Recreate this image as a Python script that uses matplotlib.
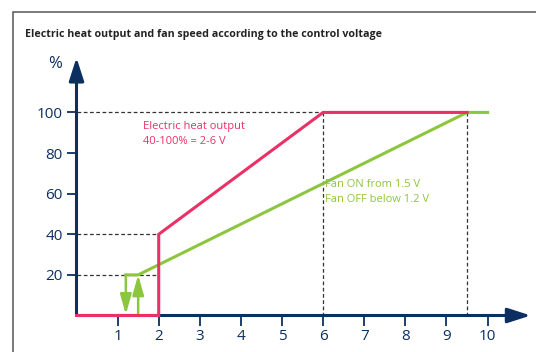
import matplotlib.pyplot as plt
from matplotlib.patches import Rectangle

# Valores de la gráfica
heat_v = [0, 2, 2, 6, 9.5]
heat_pct = [0, 0, 40, 100, 100]
fan_v = [1.2, 1.5, 9.5, 10]
fan_pct = [20, 20, 100, 100]
fan_off_v = 1.2
fan_on_v = 1.5
fan_step = 20
x_ticks = [1, 2, 3, 4, 5, 6, 7, 8, 9, 10]
y_ticks = [20, 40, 60, 80, 100]
# líneas guía: (valor, hasta)
h_guides = [(100, 6), (40, 2), (20, 2)]
v_guides = [(6, 100), (9.5, 100)]

navy = '#0b2f61'
red = '#ea3166'
green = '#8cc63e'
font = 'Open Sans'

fig = plt.figure(figsize=(5.36, 3.52), dpi=100)
ax = fig.add_axes([76.5 / 536, 36.5 / 352, 460 / 536, 264 / 352])
ax.set_xlim(0, 11.19)
ax.set_ylim(0, 130)
for s in ax.spines.values():
    s.set_visible(False)

# marco gris
fig.patches.append(Rectangle((12.5 / 536, -0.2), 1.2, 1.2 - 11.5 / 352,
                             transform=fig.transFigure, fill=False,
                             edgecolor='#555555', linewidth=1.1))

# ejes con flecha
arrow = dict(arrowstyle='-|>,head_length=1.4,head_width=0.45', color=navy,
             lw=2.2, mutation_scale=10, shrinkA=0, shrinkB=0)
ax.annotate('', xy=(0, 127), xytext=(0, 0), arrowprops=arrow, annotation_clip=False)
ax.annotate('', xy=(11.05, 0), xytext=(0, 0), arrowprops=arrow, annotation_clip=False)

ax.set_xticks(x_ticks)
ax.set_yticks(y_ticks)
ax.set_xticklabels([str(v) for v in x_ticks], fontfamily=font)
ax.set_yticklabels([str(v) for v in y_ticks], fontfamily=font)
ax.tick_params(direction='out', length=7, width=1.3, color=navy,
               labelcolor=navy, labelsize=11, pad=3)

# líneas guía discontinuas
for y, x_end in h_guides:
    ax.plot([0, x_end], [y, y], color='#333333', lw=0.9, ls=(0, (3, 2)), zorder=2)
for x, y_end in v_guides:
    ax.plot([x, x], [0, y_end], color='#333333', lw=0.9, ls=(0, (3, 2)), zorder=2)

# curvas
ax.plot(heat_v, heat_pct, color=red, lw=2.2, zorder=5, solid_joinstyle='miter', clip_on=False)
ax.plot(fan_v, fan_pct, color=green, lw=2.2, zorder=4, solid_joinstyle='miter')

# histéresis del ventilador
green_arrow = dict(arrowstyle='-|>,head_length=1.2,head_width=0.34', color=green,
                   lw=1.8, mutation_scale=10, shrinkA=0, shrinkB=0)
ax.annotate('', xy=(fan_off_v, 0.5), xytext=(fan_off_v, fan_step), arrowprops=green_arrow)
ax.annotate('', xy=(fan_on_v, fan_step), xytext=(fan_on_v, 0.5), arrowprops=green_arrow)

# textos
ax.text(1.61, 96, 'Electric heat output\n40-100% = 2-6 V', color=red, fontsize=8,
        fontfamily=font, va='top', ha='left', linespacing=1.5)
ax.text(6.05, 67, 'Fan ON from 1.5 V\nFan OFF below 1.2 V', color=green, fontsize=8,
        fontfamily=font, va='top', ha='left', linespacing=1.5)

fig.text(25 / 536, 1 - 36.5 / 352, 'Electric heat output and fan speed according to the control voltage',
         fontsize=7.7, fontweight='bold', fontfamily=font, color='#222222', va='baseline')
fig.text(55 / 536, 1 - 63.5 / 352, '%', fontsize=12, fontfamily=font, color=navy,
         ha='center', va='center')

fig.savefig('out.png', dpi=100)
